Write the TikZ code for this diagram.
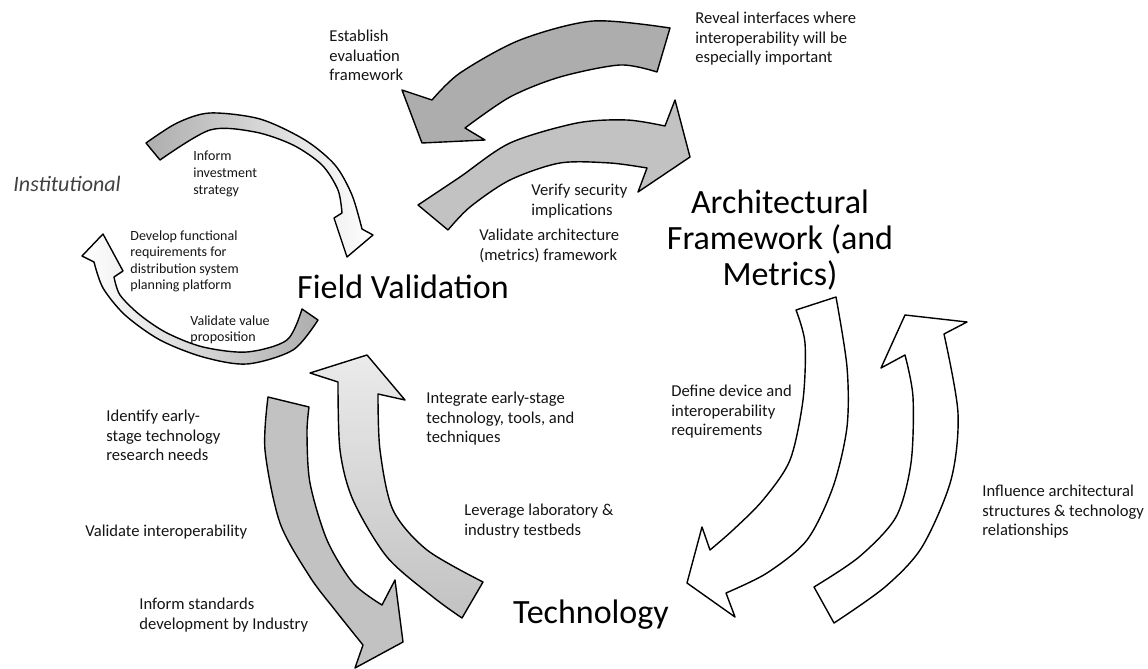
\documentclass[tikz,border=0pt]{standalone}
\usepackage{fontspec}
\setmainfont{Carlito}
\usepackage{tikz}
\usepackage{xcolor}
\colorlet{darkband}{black!32}
\colorlet{midband}{black!24}
\colorlet{lightband}{black!8}
\colorlet{textcolor}{black!92}
\newcommand{\lblfont}{\fontsize{8.3}{9.6}\selectfont}
\newcommand{\smlfont}{\fontsize{7}{8.3}\selectfont}
\newcommand{\bigfont}{\fontsize{17}{18}\selectfont}

\begin{document}
\begin{tikzpicture}[x=0.5pt, y=-0.5pt]
	\tikzstyle{every node}=[inner sep=0pt, text=textcolor]
	\tikzstyle{lbl}=[anchor=north west, align=left, font=\lblfont]
	\tikzstyle{smllbl}=[anchor=north west, align=left, font=\smlfont]
	\tikzstyle{bigtxt}=[font=\bigfont, align=center, text=black]
	\tikzstyle{band}=[draw=black, line width=0.7pt, line join=round]
	\useasboundingbox (0,0) rectangle (1148,669);
	% top pair of arrows
	\filldraw[band, fill=darkband] plot[smooth] coordinates {(670,28) (593,21) (520,40) (460,73) (432,100)} -- (402,90) -- (422,143) -- (485,140) -- plot[smooth] coordinates {(465,128) (510,97) (560,77) (620,65) (657,72)} -- cycle;
	\filldraw[band, fill=midband] plot[smooth] coordinates {(418,205) (460,177) (510,143) (577,123) (627,120) (665,126)} -- (675,100) -- (690,157) -- (638,192) -- plot[smooth] coordinates {(647,168) (610,163) (560,163) (510,180) (470,207) (448,230)} -- cycle;
	% small circle (institutional)
	\shadedraw[band, left color=darkband, middle color=white, right color=white] plot[smooth] coordinates {(146,143) (177,123) (210,113) (260,119) (305,140) (335,165) (352,195) (362,229)} -- (373,235) -- (347,257) -- (334,218) -- plot[smooth] coordinates {(342,213) (338,190) (322,165) (293,145) (255,132) (210,130) (160,160)} -- cycle;
	\shadedraw[band, left color=white, middle color=white, right color=darkband] plot[smooth] coordinates {(318,320) (293,350) (247,364) (203,357) (160,340) (125,315) (103,288) (94,262)} -- (82,256) -- (103,234) -- (123,271) -- plot[smooth] coordinates {(114,277) (120,295) (140,315) (167,333) (203,347) (247,352) (287,340) (302,309)} -- cycle;
	% technology arrows
	\filldraw[band, fill=midband] plot[smooth] coordinates {(268,397) (265,450) (280,523) (310,577) (335,610) (363,645)} -- (355,668) -- (403,642) -- (395,580) -- plot[smooth] coordinates {(382,605) (353,583) (327,540) (310,483) (307,433) (309,407)} -- cycle;
	\shadedraw[band, top color=lightband, bottom color=midband] plot[smooth] coordinates {(483,582) (427,550) (393,510) (380,450) (378,394)} -- (405,400) -- (367,355) -- (310,373) -- plot[smooth] coordinates {(338,382) (340,450) (353,500) (387,557) (433,597) (462,618)} -- cycle;
	% architecture arrows
	\filldraw[band, fill=white] plot[smooth] coordinates {(796,310) (805,343) (803,400) (790,460) (763,500) (733,530) (710,550)} -- (702,527) -- (687,583) -- (735,617) -- plot[smooth] coordinates {(726,593) (767,573) (807,540) (833,487) (847,427) (847,367) (836,297)} -- cycle;
	\filldraw[band, fill=white] plot[smooth] coordinates {(814,587) (859,557) (896,517) (911,463) (913,397) (905,355)} -- (881,368) -- (905,315) -- (967,322) -- plot[smooth] coordinates {(944,334) (958,413) (951,480) (922,547) (885,587) (834,623)} -- cycle;
	% headings
	\node (field) [bigtxt, anchor=base] at (403,298) {Field Validation};
	\node (arch) [bigtxt] at (780,240) {Architectural\\Framework (and\\Metrics)};
	\node (tech) [bigtxt, anchor=base] at (591,623) {Technology};
	\node (inst) [anchor=base west, font=\fontsize{11}{13}\selectfont\itshape, text=black!75] at (13,191) {Institutional};
	% labels
	\node (establish) [lbl] at (329,30) {Establish\\evaluation\\framework};
	\node (reveal) [lbl] at (695,12) {Reveal interfaces where\\interoperability will be\\especially important};
	\node (verify) [lbl] at (531,184) {Verify security\\implications};
	\node (valarch) [lbl] at (479,229) {Validate architecture\\(metrics) framework};
	\node (inform) [smllbl] at (193,151) {Inform\\investment\\strategy};
	\node (develop) [smllbl] at (130,230) {Develop functional\\requirements for\\distribution system\\planning platform};
	\node (valvalue) [smllbl] at (190,315) {Validate value\\proposition};
	\node (identify) [lbl] at (106,410) {Identify early-\\stage technology\\research needs};
	\node (valinterop) [lbl] at (85,525) {Validate interoperability};
	\node (standards) [lbl] at (139,598) {Inform standards\\development by Industry};
	\node (integrate) [lbl] at (426,392) {Integrate early-stage\\technology, tools, and\\techniques};
	\node (leverage) [lbl] at (464,504) {Leverage laboratory \&\\industry testbeds};
	\node (define) [lbl] at (671,385) {Define device and\\interoperability\\requirements};
	\node (influence) [lbl] at (982,485) {Influence architectural\\structures \& technology\\relationships};
\end{tikzpicture}
\end{document}
